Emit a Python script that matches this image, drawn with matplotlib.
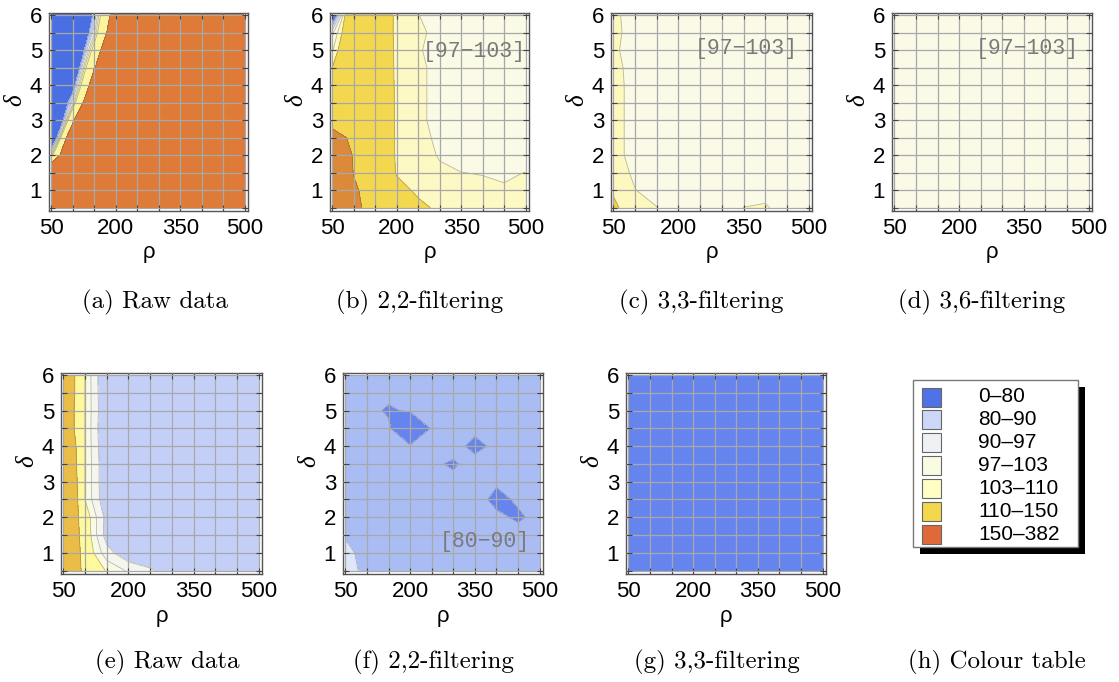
import numpy as np
import matplotlib
matplotlib.use("Agg")
import matplotlib.pyplot as plt
from matplotlib.patches import Rectangle

plt.rcParams['font.family'] = ['Liberation Sans', 'DejaVu Sans']

# sampling grid: columns follow rho, rows follow delta (bottom to top)
rho = [50, 100, 150, 200, 250, 300, 350, 400, 450, 500]
delta = [0.5, 1.0, 1.5, 2.0, 2.5, 3.0, 3.5, 4.0, 4.5, 5.0, 5.5, 6.0]

levels = [0, 80, 90, 97, 103, 110, 150, 382]
level_labels = ["0–80", "80–90", "90–97", "97–103", "103–110", "110–150", "150–382"]

x_ticklabels = {50: "50", 200: "200", 350: "350", 500: "500"}
y_ticklabels = {1.0: "1", 2.0: "2", 3.0: "3", 4.0: "4", 5.0: "5", 6.0: "6"}

# (a) raw data, first series
raw_a = [
    [290, 310, 330, 345, 355, 365, 370, 375, 378, 381],
    [270, 300, 320, 340, 350, 360, 365, 370, 375, 378],
    [213, 290, 315, 335, 345, 355, 360, 366, 374, 380],
    [100, 225, 305, 330, 340, 348, 355, 364, 372, 382],
    [39, 198, 300, 325, 335, 345, 352, 362, 370, 380],
    [5, 140, 320, 330, 335, 340, 350, 360, 368, 378],
    [27, 95, 210, 310, 325, 338, 350, 358, 366, 376],
    [40, 69, 175, 300, 320, 335, 348, 356, 365, 374],
    [30, 48, 148, 198, 305, 330, 345, 355, 362, 372],
    [25, 33, 120, 220, 310, 330, 342, 355, 362, 370],
    [25, 33, 95, 190, 300, 325, 340, 352, 360, 368],
    [30, 45, 83, 175, 290, 320, 340, 350, 360, 370],
]

# (b) 2,2-filtering
filt22_b = [
    [190, 156, 140, 125, 115, 106, 105, 104.5, 104, 104.5],
    [185, 153, 140, 118, 106, 105, 104.5, 104, 103.5, 104],
    [180, 149, 140, 108, 106, 103.8, 103.05, 102.8, 102.3, 103.1],
    [175, 148, 138, 107, 105, 102.6, 101, 100.5, 100, 100],
    [160, 145, 138, 107, 104.5, 102, 100.5, 100, 100, 100],
    [140, 142, 138, 106.5, 104, 101.5, 100.5, 100, 100, 100],
    [125, 140, 138, 106.5, 104, 101.5, 100.5, 100, 100, 100],
    [118, 138, 138, 106, 104, 101.5, 100, 100, 100, 100],
    [110, 135, 135, 106, 104, 101.5, 100, 100, 100, 100],
    [102, 132, 132, 106, 103.5, 101, 100, 100, 99.5, 99.5],
    [95, 128, 130, 106, 104, 101.5, 100, 100, 100, 99.8],
    [60, 145, 130, 106, 103.1, 101, 100, 100.5, 100, 99.5],
]

# (c) 3,3-filtering
filt33_c = [
    [112.0, 104.5, 103.1, 101.5, 101.0, 101.0, 103.05, 103.5, 101.0, 100.5],
    [109.0, 103.1, 101.5, 101.0, 100.5, 100.5, 101.0, 101.5, 100.5, 100.2],
    [105.0, 102.3, 101.0, 100.5, 100.2, 100.2, 100.5, 100.5, 100.2, 100.0],
    [104.5, 101.5, 100.5, 100.2, 100.0, 100.0, 100.2, 100.2, 100.0, 100.0],
    [104.5, 101.5, 100.5, 100.0, 100.0, 99.8, 100.0, 100.0, 100.0, 99.9],
    [104.5, 101.5, 100.4, 100.0, 99.9, 99.8, 99.9, 100.0, 99.8, 99.9],
    [104.5, 101.5, 100.4, 100.0, 99.9, 99.9, 99.8, 99.9, 99.8, 99.9],
    [104.5, 101.5, 100.3, 99.9, 99.8, 99.8, 99.8, 99.9, 99.9, 100.0],
    [104.2, 101.5, 100.3, 99.9, 99.8, 99.8, 99.9, 99.9, 100.0, 100.0],
    [103.8, 101.0, 100.2, 99.9, 99.8, 99.9, 99.9, 100.0, 100.0, 100.1],
    [104.0, 101.5, 100.3, 100.0, 99.9, 99.9, 100.0, 100.0, 100.1, 100.1],
    [104.0, 101.0, 100.2, 100.0, 100.0, 100.0, 100.0, 100.1, 100.1, 100.2],
]

# (d) 3,6-filtering
filt36_d = [
    [100.6, 100.4, 100.2, 100.1, 100.0, 100.0, 100.2, 100.3, 100.1, 100.0],
    [100.5, 100.3, 100.1, 100.0, 100.0, 99.9, 100.1, 100.2, 100.0, 100.0],
    [100.4, 100.2, 100.1, 100.0, 99.9, 99.9, 100.0, 100.1, 100.0, 99.9],
    [100.3, 100.2, 100.0, 100.0, 99.9, 99.9, 100.0, 100.0, 99.9, 99.9],
    [100.3, 100.1, 100.0, 99.9, 99.9, 99.8, 99.9, 100.0, 99.9, 99.9],
    [100.3, 100.1, 100.0, 99.9, 99.8, 99.8, 99.9, 99.9, 99.9, 99.9],
    [100.2, 100.1, 100.0, 99.9, 99.8, 99.8, 99.8, 99.9, 99.9, 99.9],
    [100.2, 100.1, 99.9, 99.9, 99.8, 99.8, 99.8, 99.9, 99.9, 100.0],
    [100.2, 100.0, 99.9, 99.9, 99.8, 99.8, 99.9, 99.9, 100.0, 100.0],
    [100.1, 100.0, 99.9, 99.9, 99.9, 99.9, 99.9, 100.0, 100.0, 100.0],
    [100.1, 100.0, 100.0, 99.9, 99.9, 99.9, 100.0, 100.0, 100.0, 100.1],
    [100.1, 100.0, 100.0, 100.0, 100.0, 100.0, 100.0, 100.0, 100.1, 100.1],
]

# (e) raw data, second series
raw_e = [
    [111.8, 109.6, 102.5, 96.0, 91.0, 86.0, 85.0, 85.0, 85.0, 85.0],
    [111.8, 109.5, 93.0, 84.0, 84.5, 85.0, 85.0, 85.0, 85.0, 85.0],
    [112.8, 109.0, 86.5, 84.5, 85.0, 85.0, 85.0, 85.0, 85.0, 85.0],
    [114.7, 108.0, 87.2, 84.5, 85.0, 85.0, 85.0, 85.0, 85.0, 85.0],
    [124.0, 102.9, 83.5, 84.5, 85.0, 85.0, 85.0, 85.0, 85.0, 85.0],
    [122.5, 102.9, 83.0, 84.5, 85.0, 85.0, 85.0, 85.0, 85.0, 85.0],
    [121.0, 102.9, 83.0, 84.5, 85.0, 85.0, 85.0, 85.0, 85.0, 85.0],
    [120.0, 102.9, 82.0, 84.5, 85.0, 85.0, 85.0, 85.0, 85.0, 85.0],
    [117.0, 102.9, 81.0, 84.0, 85.0, 85.0, 85.0, 85.0, 85.0, 85.0],
    [117.0, 102.9, 82.0, 84.0, 85.0, 85.0, 85.0, 85.0, 85.0, 85.0],
    [118.0, 102.9, 81.5, 84.5, 85.0, 85.0, 85.0, 85.0, 85.0, 85.0],
    [118.0, 102.9, 81.0, 84.0, 85.0, 85.0, 84.5, 85.0, 85.0, 84.5],
]

# (f) 2,2-filtering
filt22_f = [
    [93.0, 88.0, 86.0, 85.5, 85.0, 85.5, 86.0, 85.5, 85.0, 85.5],
    [91.5, 88.0, 86.0, 85.0, 85.0, 85.0, 85.5, 85.0, 85.0, 85.0],
    [89.5, 87.0, 86.0, 85.0, 85.0, 85.0, 85.0, 85.0, 85.0, 85.0],
    [87.0, 86.0, 85.5, 85.0, 85.0, 84.5, 84.0, 83.0, 78.0, 84.0],
    [86.0, 85.5, 85.0, 84.5, 84.0, 83.5, 86.0, 76.0, 82.0, 84.0],
    [86.0, 85.5, 85.0, 84.0, 83.5, 83.0, 82.5, 82.0, 83.0, 84.0],
    [86.0, 85.5, 84.5, 83.0, 82.0, 78.5, 84.5, 82.5, 83.0, 84.0],
    [86.0, 85.0, 84.0, 82.0, 80.4, 84.5, 76.5, 83.0, 83.5, 84.5],
    [86.0, 85.0, 83.0, 55.0, 82.0, 83.0, 83.0, 83.0, 84.0, 85.0],
    [86.0, 85.0, 78.0, 82.0, 83.0, 84.0, 84.0, 84.0, 84.5, 85.0],
    [86.0, 85.5, 84.0, 84.0, 84.5, 85.0, 85.0, 85.0, 85.0, 85.5],
    [86.5, 86.0, 85.5, 85.0, 85.0, 85.5, 85.5, 85.5, 85.5, 86.0],
]

# (g) 3,3-filtering
filt33_g = [
    [66, 65, 64, 65, 66, 65, 64, 65, 66, 65],
    [65, 64, 64, 65, 65, 64, 64, 65, 65, 64],
    [64, 64, 63, 64, 64, 64, 63, 64, 64, 64],
    [64, 63, 63, 63, 64, 63, 63, 63, 64, 63],
    [63, 63, 62, 63, 63, 63, 62, 63, 63, 63],
    [63, 62, 62, 62, 63, 62, 62, 62, 63, 62],
    [62, 62, 61, 62, 62, 62, 61, 62, 62, 62],
    [62, 61, 61, 61, 62, 61, 61, 61, 62, 61],
    [61, 61, 60, 61, 61, 61, 60, 61, 61, 61],
    [61, 60, 60, 60, 61, 60, 60, 60, 61, 60],
    [60, 60, 59, 60, 60, 60, 59, 60, 60, 60],
    [60, 59, 59, 59, 60, 59, 59, 59, 60, 59],
]

legend_colors = ['#4f72e8', '#cdd7f8', '#eef1f4', '#f9fbe2', '#fefec5', '#f3d84e', '#e0693a']
colors_a = ['#4a6fe3', '#b8c7f5', '#eef1f5', '#f8f8e6', '#fdf9c0', '#fbf59e', '#de7b39']
colors_b = ['#5676e6', '#c3cff6', '#eef1f5', '#fafae6', '#fdf9c4', '#f3d84f', '#dc8a3a']
colors_c = ['#5676e6', '#c3cff6', '#eef1f5', '#fafae7', '#fdf8be', '#efcf48', '#dc8a3a']
colors_e = ['#6584ee', '#c3cff7', '#f4f5ee', '#f9f9e7', '#fef99d', '#eabd47', '#de7b39']
colors_f = ['#6584ee', '#a9bcf4', '#e0e6fa', '#f9f9e6', '#fdf9c4', '#f3d84f', '#dc8a3a']

W, H = 1119, 682
fig = plt.figure(figsize=(W / 100, H / 100), dpi=100)


def px_axes(left, top, right, bottom):
    return fig.add_axes([left / W, 1 - bottom / H, (right - left) / W, (bottom - top) / H])


def draw_panel(ax, grid, colors, note=None, note_xy=None):
    z = np.array(grid, dtype=float)
    ax.contourf(rho, delta, z, levels=levels, colors=colors)
    inner = [lv for lv in levels[1:-1] if z.min() < lv < z.max()]
    if inner:
        ax.contour(rho, delta, z, levels=inner, colors=[(0.25, 0.25, 0.25, 0.35)],
                   linewidths=0.6)
    ax.set_xlim(44.6, 507.7)
    ax.set_ylim(0.405, 6.057)
    ax.set_xticks(rho)
    ax.set_xticklabels([x_ticklabels.get(r, "") for r in rho])
    ax.set_yticks(delta)
    ax.set_yticklabels([y_ticklabels.get(d, "") for d in delta])
    ax.grid(True, color='#a8a8a8', linewidth=0.9)
    ax.set_axisbelow(False)
    ax.tick_params(direction='in', top=True, right=True, length=4, width=0.8,
                   color='#444444', labelsize=16, pad=5)
    for sp in ax.spines.values():
        sp.set_color('#555555')
        sp.set_linewidth(1.0)
    ax.set_xlabel('ρ', fontsize=16)
    ax.xaxis.set_label_coords(0.5, -0.21)
    ax.xaxis.label.set_va('center')
    ax.set_ylabel('δ', family='Liberation Serif', style='italic', fontsize=18, rotation=90)
    ax.yaxis.set_label_coords(-0.17, 0.56)
    ax.yaxis.label.set_va('center')
    if note:
        ax.text(note_xy[0], note_xy[1], note, ha='center', va='center',
                family='Liberation Mono', color='#7a7a7a', fontsize=15.5)


panels = [
    ((49, 13, 248, 211), raw_a, colors_a, None, None),
    ((330, 13, 529, 211), filt22_b, colors_b, "[97−103]", (380, 4.95)),
    ((611, 13, 812, 211), filt33_c, colors_c, "[97−103]", (357, 5.05)),
    ((892, 13, 1092, 211), filt36_d, colors_c, "[97−103]", (357, 5.05)),
    ((61, 373, 262, 574), raw_e, colors_e, None, None),
    ((343, 373, 543, 574), filt22_f, colors_f, "[80−90]", (374, 1.33)),
    ((626, 373, 826, 574), filt33_g, colors_f, None, None),
]
for box, grid, cols, note, note_xy in panels:
    ax = px_axes(*box)
    draw_panel(ax, grid, cols, note, note_xy)

# sub-figure captions
captions = [
    ("(a) Raw data", 155, 302), ("(b) 2,2-filtering", 420, 302),
    ("(c) 3,3-filtering", 701, 302), ("(d) 3,6-filtering", 982, 302),
    ("(e) Raw data", 167, 662), ("(f) 2,2-filtering", 433, 662),
    ("(g) 3,3-filtering", 717, 662), ("(h) Colour table", 997, 662),
]
for text, cx, cy in captions:
    fig.text(cx / W, 1 - cy / H, text, ha='center', va='center', family='cmr10', fontsize=18)

# colour table drawn in pixel coordinates
lg = fig.add_axes([0, 0, 1, 1])
lg.set_xlim(0, W)
lg.set_ylim(H, 0)
lg.axis('off')
lg.add_patch(Rectangle((920, 387), 165, 167, facecolor='black', edgecolor='none'))
lg.add_patch(Rectangle((913, 380), 165, 167, facecolor='white', edgecolor='#777777', linewidth=1.0))
for i, (lab, col) in enumerate(zip(level_labels, legend_colors)):
    yc = 397 + i * 22.9
    lg.add_patch(Rectangle((922, yc - 9.5), 19, 19, facecolor=col, edgecolor='#666666', linewidth=0.8))
    lg.text(978, yc, lab, ha='left', va='center', fontsize=15)

fig.savefig('out.png', dpi=100)
